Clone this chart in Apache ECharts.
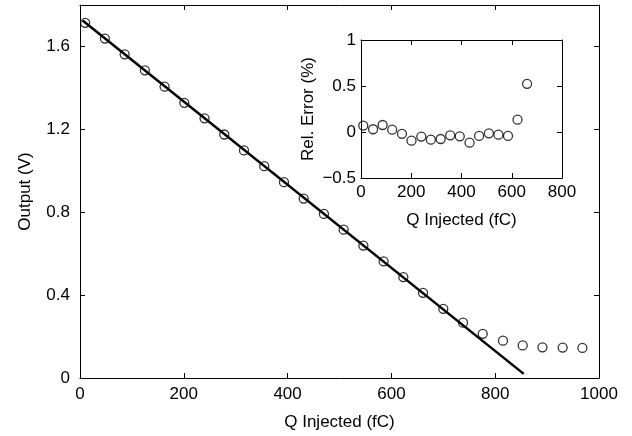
<!DOCTYPE html>
<html>
<head>
<meta charset="utf-8">
<script src="https://cdn.jsdelivr.net/npm/echarts@6/dist/echarts.min.js"></script>
<style>
  html, body { margin: 0; padding: 0; background: #fff; }
  #chart { width: 632px; height: 436px; }
</style>
</head>
<body>
<div id="chart"></div>
<script>
// measured output vs injected charge
var qInjected = [10, 48, 86, 125, 163, 201, 240, 278, 316, 355, 393, 431, 470,
                 508, 546, 585, 623, 661, 700, 738, 776, 815, 853, 891, 930, 968];
var outputV = [1.714, 1.638, 1.562, 1.485, 1.406, 1.328, 1.253, 1.175, 1.098, 1.022,
               0.945, 0.866, 0.792, 0.716, 0.639, 0.563, 0.487, 0.411, 0.334, 0.267,
               0.213, 0.180, 0.157, 0.148, 0.147, 0.145];

// linear fit endpoints
var fitQ = [5, 855];
var fitV = [1.725, 0.02];

// inset: relative error (%) for the linear range
var errQ = [9, 48, 86, 124, 163, 201, 240, 278, 317, 355, 393, 432, 470, 509, 547, 585, 623, 661];
var relErr = [0.07, 0.03, 0.076, 0.025, -0.02, -0.094, -0.05, -0.083, -0.076, -0.036,
              -0.047, -0.116, -0.043, -0.014, -0.029, -0.043, 0.134, 0.524];

var font = 'Liberation Sans, Arial, Helvetica, sans-serif';

function pairs(xs, ys) {
  var out = [];
  for (var i = 0; i < xs.length; i++) out.push([xs[i], ys[i]]);
  return out;
}

// plain number, no thousands separator, real minus sign
function fmt(v) {
  return String(v).replace('-', '\u2212');
}

function boxAxis(gridIndex, pos, opts) {
  var a = {
    gridIndex: gridIndex,
    position: pos,
    type: 'value',
    axisLine: { show: true, onZero: false, lineStyle: { color: '#000', width: 1 } },
    axisTick: { show: true, inside: true, length: 5, lineStyle: { color: '#000' } },
    axisLabel: { show: false },
    splitLine: { show: false }
  };
  for (var k in opts) a[k] = opts[k];
  return a;
}

function label(margin, extra) {
  var l = { show: true, color: '#000', fontSize: 17, fontFamily: font, margin: margin, formatter: fmt };
  for (var k in extra) l[k] = extra[k];
  return l;
}
var nameStyle = { color: '#000', fontSize: 17, fontFamily: font };

var chart = echarts.init(document.getElementById('chart'));
chart.setOption({
  animation: false,
  backgroundColor: '#fff',
  grid: [
    { left: 80, right: 33, top: 5, bottom: 53 },
    { left: 361, right: 70, top: 40, bottom: 258, show: true, backgroundColor: '#fff', borderWidth: 0 }
  ],
  xAxis: [
    boxAxis(0, 'bottom', { min: 0, max: 1000, interval: 200, axisLabel: label(8),
      name: 'Q Injected (fC)', nameLocation: 'middle', nameGap: 36, nameTextStyle: nameStyle }),
    boxAxis(0, 'top', { min: 0, max: 1000, interval: 200 }),
    boxAxis(1, 'bottom', { min: 0, max: 800, interval: 200, axisLabel: label(6),
      name: 'Q Injected (fC)', nameLocation: 'middle', nameGap: 34, nameTextStyle: nameStyle }),
    boxAxis(1, 'top', { min: 0, max: 800, interval: 200 })
  ],
  yAxis: [
    boxAxis(0, 'left', { min: 0, max: 1.8, interval: 0.4,
      axisLabel: label(10, { showMaxLabel: false }),
      name: 'Output (V)', nameLocation: 'middle', nameGap: 46, nameTextStyle: nameStyle }),
    boxAxis(0, 'right', { min: 0, max: 1.8, interval: 0.4 }),
    boxAxis(1, 'left', { min: -0.5, max: 1, interval: 0.5, axisLabel: label(5),
      name: 'Rel. Error (%)', nameLocation: 'middle', nameGap: 44, nameTextStyle: nameStyle }),
    boxAxis(1, 'right', { min: -0.5, max: 1, interval: 0.5 })
  ],
  series: [
    {
      type: 'line',
      xAxisIndex: 0, yAxisIndex: 0,
      data: pairs(fitQ, fitV),
      showSymbol: false,
      lineStyle: { color: '#000', width: 2.5 },
      z: 2
    },
    {
      type: 'scatter',
      xAxisIndex: 0, yAxisIndex: 0,
      data: pairs(qInjected, outputV),
      symbol: 'circle',
      symbolSize: 9,
      itemStyle: { color: 'rgba(0,0,0,0)', borderColor: '#000', borderWidth: 1.3 },
      z: 3
    },
    {
      type: 'scatter',
      xAxisIndex: 2, yAxisIndex: 2,
      data: pairs(errQ, relErr),
      symbol: 'circle',
      symbolSize: 9,
      itemStyle: { color: 'rgba(0,0,0,0)', borderColor: '#000', borderWidth: 1.3 },
      z: 3
    }
  ]
});
</script>
</body>
</html>
